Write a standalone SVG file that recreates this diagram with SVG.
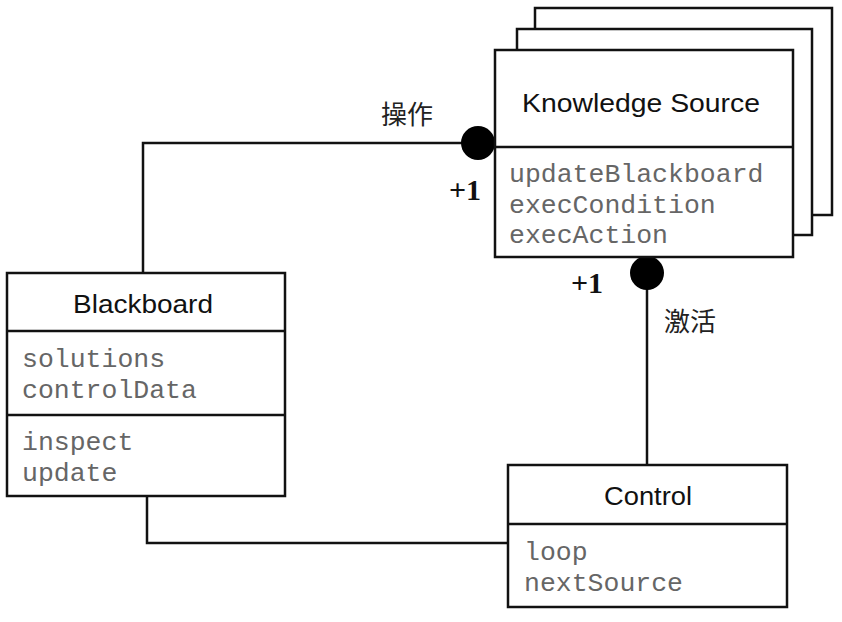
<svg xmlns="http://www.w3.org/2000/svg" width="842" height="622" viewBox="0 0 842 622">
<style>
.box{fill:#fff;stroke:#111;stroke-width:2.5}
.ln{fill:none;stroke:#111;stroke-width:2.5}
.title{font-family:"Liberation Sans",Arial,sans-serif;font-size:25px;fill:#111;text-anchor:middle}
.mono{font-family:"Liberation Mono","Courier New",monospace;font-size:26.5px;fill:#666}
.lbl{font-family:"Noto Sans CJK SC","Noto Sans CJK JP",sans-serif;font-size:26px;fill:#222}
.mult{font-family:"Liberation Serif","Times New Roman",serif;font-size:30px;font-weight:bold;fill:#111}
.ball{fill:#000}
</style>
<rect width="842" height="622" fill="#fff"/>
<g id="connectors">
<polyline class="ln" points="143,273 143,143 495,143"/>
<polyline class="ln" points="147,496 147,543 508,543"/>
<line class="ln" x1="647" y1="257" x2="647" y2="465"/>
<circle class="ball" cx="478" cy="143" r="17"/>
<circle class="ball" cx="647" cy="273" r="17"/>
<text class="lbl" x="381" y="124">操作</text>
<text class="mult" x="449" y="200">+1</text>
<text class="mult" x="571" y="293">+1</text>
<text class="lbl" x="664" y="331">激活</text>
</g>
<g id="knowledge-source">
<rect class="box" x="535" y="8" width="297" height="207"/>
<rect class="box" x="517" y="29" width="295" height="206"/>
<rect class="box" x="495" y="50" width="298" height="207"/>
<line class="ln" x1="495" y1="147" x2="793" y2="147"/>
<text class="title" x="641" y="112" textLength="238" lengthAdjust="spacingAndGlyphs">Knowledge Source</text>
<text class="mono" x="509" y="182">updateBlackboard</text>
<text class="mono" x="509" y="213">execCondition</text>
<text class="mono" x="509" y="243">execAction</text>
</g>
<g id="blackboard">
<rect class="box" x="7" y="273" width="278" height="223"/>
<line class="ln" x1="7" y1="331" x2="285" y2="331"/>
<line class="ln" x1="7" y1="415" x2="285" y2="415"/>
<text class="title" x="143" y="313" textLength="140" lengthAdjust="spacingAndGlyphs">Blackboard</text>
<text class="mono" x="22" y="367">solutions</text>
<text class="mono" x="22" y="398">controlData</text>
<text class="mono" x="22" y="450">inspect</text>
<text class="mono" x="22" y="481">update</text>
</g>
<g id="control">
<rect class="box" x="508" y="465" width="279" height="142"/>
<line class="ln" x1="508" y1="524" x2="787" y2="524"/>
<text class="title" x="648" y="505" textLength="88" lengthAdjust="spacingAndGlyphs">Control</text>
<text class="mono" x="524" y="560">loop</text>
<text class="mono" x="524" y="591">nextSource</text>
</g>
</svg>
